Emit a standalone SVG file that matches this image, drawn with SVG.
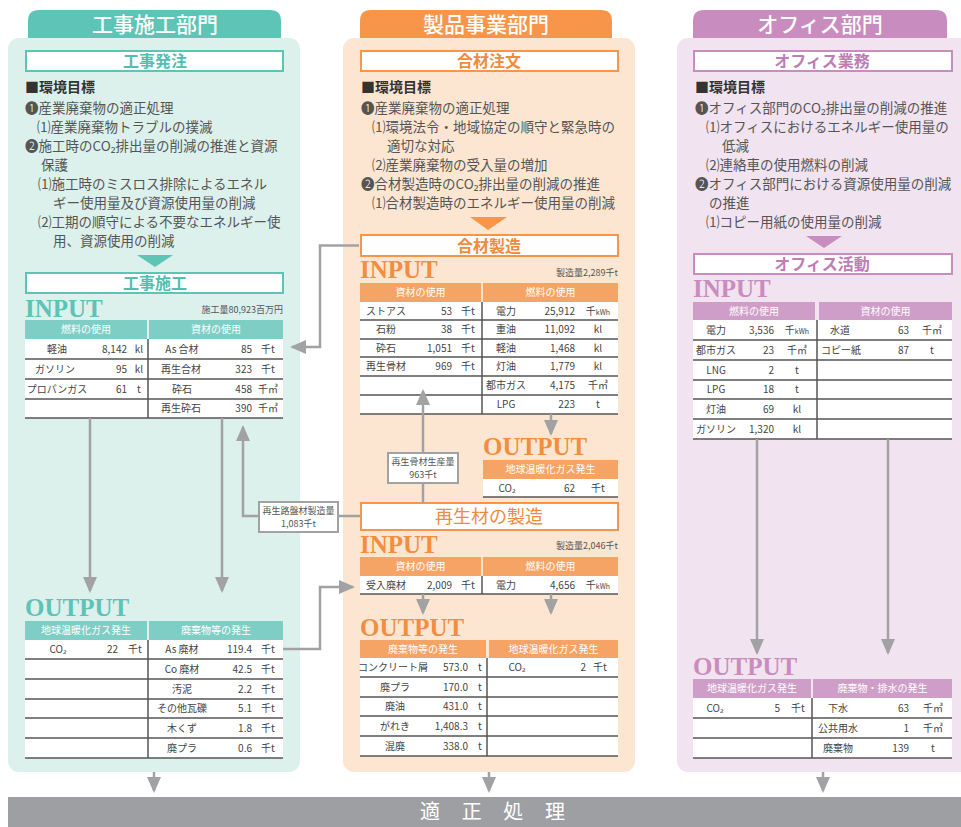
<svg xmlns="http://www.w3.org/2000/svg" width="961" height="827" viewBox="0 0 961 827">
<defs>
<marker id="ah" markerUnits="userSpaceOnUse" markerWidth="16" markerHeight="14" viewBox="0 0 16 14" refX="14" refY="7" orient="auto">
<path d="M0,0 L16,7 L0,14 Z" fill="#a2a2a5"/>
</marker>
<style>
text{font-family:"Noto Sans CJK JP","Noto Sans",sans-serif}
.goalh{font-size:14px;font-weight:700;fill:#333}
.goal{font-size:13.5px;fill:#555}
.tab{font-size:21px;fill:#fff;text-anchor:middle;font-weight:500}
.box{font-size:16px;font-weight:700;text-anchor:middle}
.io{font-family:"Liberation Serif",serif;font-weight:700;font-size:25px}
.th{font-size:10px;fill:#fff;text-anchor:middle}
.td{font-size:10px;fill:#444}
.m{text-anchor:middle}
.e{text-anchor:end}
.sm{font-size:9px;fill:#555}
.conn{stroke:#a2a2a5;stroke-width:2.5;fill:none}
.rl{stroke:#555;stroke-width:1.5}
.row{fill:#fff}
.lbl{fill:#fff;stroke:#a2a2a5;stroke-width:2}
.teal{fill:#4fbfb2}.org{fill:#f08a3c}.pur{fill:#c07cb4}
</style>
</defs>

<!-- panels -->
<g id="dept-construction">
<rect x="8" y="38" width="292" height="734" rx="11" fill="#dcf0ec"/>
<path d="M28,38 V21 Q28,10 39,10 H270 Q281,10 281,21 V38 Z" fill="#5ec4b6"/>
<text class="tab" x="155" y="32">工事施工部門</text>
</g>
<g id="dept-products">
<rect x="343" y="38" width="292" height="734" rx="11" fill="#fde6d1"/>
<path d="M360,38 V21 Q360,10 371,10 H601 Q612,10 612,21 V38 Z" fill="#f7954b"/>
<text class="tab" x="486" y="32">製品事業部門</text>
</g>
<g id="dept-office">
<rect x="677" y="38" width="300" height="734" rx="11" fill="#f1e3ef"/>
<path d="M693,38 V21 Q693,10 704,10 H936 Q947,10 947,21 V38 Z" fill="#c98cbf"/>
<text class="tab" x="820" y="32">オフィス部門</text>
</g>

<!-- left column -->
<g id="order-construction">
<rect x="26" y="51" width="257" height="20" fill="#fff" stroke="#5ec4b6" stroke-width="2"/>
<text class="box teal" x="155" y="67">工事発注</text>
</g>
<g id="goals-construction">
<text class="goalh" x="25" y="92">■環境目標</text>
<text class="goal" x="25" y="113">❶産業廃棄物の適正処理</text>
<text class="goal" x="37" y="132">⑴産業廃棄物トラブルの撲滅</text>
<text class="goal" x="25" y="151">❷施工時のCO₂排出量の削減の推進と資源</text>
<text class="goal" x="41" y="170">保護</text>
<text class="goal" x="38" y="189">⑴施工時のミスロス排除によるエネル</text>
<text class="goal" x="53" y="208">ギー使用量及び資源使用量の削減</text>
<text class="goal" x="38" y="227">⑵工期の順守による不要なエネルギー使</text>
<text class="goal" x="53" y="246">用、資源使用の削減</text>
<path d="M137,255 H173 L155,267 Z" fill="#5ec4b6"/>
</g>
<g id="work-construction">
<rect x="26" y="273" width="257" height="20" fill="#fff" stroke="#5ec4b6" stroke-width="2"/>
<text class="box teal" x="155" y="289">工事施工</text>
<text class="io" x="25" y="317" fill="#5cc3b6">INPUT</text>
<text class="sm e" x="283" y="313">施工量80,923百万円</text>
</g>
<g id="table-construction-input">
<rect x="25" y="320" width="122" height="19" fill="#7fcec5"/>
<rect x="149" y="320" width="134" height="19" fill="#7fcec5"/>
<text class="th" x="86" y="333">燃料の使用</text>
<text class="th" x="216" y="333">資材の使用</text>
<rect class="row" x="25" y="339" width="258" height="79"/>
<path class="rl" d="M25,359H283M25,379H283M25,399H283M25,418H283M148,339V418"/>
<text class="td m" x="57" y="352.5">軽油</text><text class="td e" x="127" y="352.5">8,142</text><text class="td m" x="139" y="352.5">kl</text>
<text class="td m" x="55" y="372.5">ガソリン</text><text class="td e" x="127" y="372.5">95</text><text class="td m" x="139" y="372.5">kl</text>
<text class="td m" x="57" y="392.5">プロパンガス</text><text class="td e" x="127" y="392.5">61</text><text class="td m" x="139" y="392.5">t</text>
<text class="td m" x="182" y="352.5">As 合材</text><text class="td e" x="252" y="352.5">85</text><text class="td m" x="268" y="352.5">千t</text>
<text class="td m" x="181" y="372.5">再生合材</text><text class="td e" x="252" y="372.5">323</text><text class="td m" x="268" y="372.5">千t</text>
<text class="td m" x="182" y="392.5">砕石</text><text class="td e" x="252" y="392.5">458</text><text class="td m" x="268" y="392.5">千㎥</text>
<text class="td m" x="181" y="412">再生砕石</text><text class="td e" x="252" y="412">390</text><text class="td m" x="268" y="412">千㎥</text>
</g>
<g id="table-construction-output">
<text class="io" x="25" y="616" fill="#5cc3b6">OUTPUT</text>
<rect x="25" y="621" width="122" height="19" fill="#7fcec5"/>
<rect x="149" y="621" width="134" height="19" fill="#7fcec5"/>
<text class="th" x="86" y="634">地球温暖化ガス発生</text>
<text class="th" x="216" y="634">廃棄物等の発生</text>
<rect class="row" x="25" y="640" width="258" height="118"/>
<path class="rl" d="M25,659H283M25,679H283M25,699H283M25,718H283M25,738H283M25,758H283M148,640V758"/>
<text class="td m" x="58" y="653">CO₂</text><text class="td e" x="118" y="653">22</text><text class="td m" x="135" y="653">千t</text>
<text class="td m" x="182" y="653">As 廃材</text><text class="td e" x="252" y="653">119.4</text><text class="td m" x="268" y="653">千t</text>
<text class="td m" x="182" y="672.5">Co 廃材</text><text class="td e" x="252" y="672.5">42.5</text><text class="td m" x="268" y="672.5">千t</text>
<text class="td m" x="182" y="692.5">汚泥</text><text class="td e" x="252" y="692.5">2.2</text><text class="td m" x="268" y="692.5">千t</text>
<text class="td m" x="182" y="712">その他瓦礫</text><text class="td e" x="252" y="712">5.1</text><text class="td m" x="268" y="712">千t</text>
<text class="td m" x="182" y="731.5">木くず</text><text class="td e" x="252" y="731.5">1.8</text><text class="td m" x="268" y="731.5">千t</text>
<text class="td m" x="182" y="751.5">廃プラ</text><text class="td e" x="252" y="751.5">0.6</text><text class="td m" x="268" y="751.5">千t</text>
</g>

<!-- middle column -->
<g id="order-products">
<rect x="361" y="51" width="257" height="20" fill="#fff" stroke="#f7954b" stroke-width="2"/>
<text class="box org" x="489" y="67">合材注文</text>
</g>
<g id="goals-products">
<text class="goalh" x="361" y="92">■環境目標</text>
<text class="goal" x="361" y="113">❶産業廃棄物の適正処理</text>
<text class="goal" x="372" y="132">⑴環境法令・地域協定の順守と緊急時の</text>
<text class="goal" x="387" y="151">適切な対応</text>
<text class="goal" x="372" y="170">⑵産業廃棄物の受入量の増加</text>
<text class="goal" x="361" y="189">❷合材製造時のCO₂排出量の削減の推進</text>
<text class="goal" x="372" y="208">⑴合材製造時のエネルギー使用量の削減</text>
<path d="M470,217 H507 L488,230 Z" fill="#f7954b"/>
</g>
<g id="mfg-products">
<rect x="361" y="235" width="257" height="21" fill="#fff" stroke="#f7954b" stroke-width="2"/>
<text class="box org" x="489" y="252">合材製造</text>
<text class="io" x="360" y="278" fill="#f28d41">INPUT</text>
<text class="sm e" x="618" y="276">製造量2,289千t</text>
</g>
<g id="table-products-input">
<rect x="360" y="283" width="121" height="19" fill="#f6a466"/>
<rect x="483" y="283" width="135" height="19" fill="#f6a466"/>
<text class="th" x="420.5" y="296">資材の使用</text>
<text class="th" x="550.5" y="296">燃料の使用</text>
<rect class="row" x="360" y="302" width="258" height="112"/>
<path class="rl" d="M360,320H618M360,339H618M360,357H618M360,376H618M360,395H618M360,414H618M482,302V414"/>
<text class="td m" x="386" y="314.5">ストアス</text><text class="td e" x="452" y="314.5">53</text><text class="td m" x="468" y="314.5">千t</text>
<text class="td m" x="386" y="333">石粉</text><text class="td e" x="452" y="333">38</text><text class="td m" x="468" y="333">千t</text>
<text class="td m" x="386" y="351.5">砕石</text><text class="td e" x="452" y="351.5">1,051</text><text class="td m" x="468" y="351.5">千t</text>
<text class="td m" x="386" y="370">再生骨材</text><text class="td e" x="452" y="370">969</text><text class="td m" x="468" y="370">千t</text>
<text class="td m" x="506" y="314.5">電力</text><text class="td e" x="575" y="314.5">25,912</text><text class="td m" x="598" y="314.5">千<tspan font-size="7">kWh</tspan></text>
<text class="td m" x="506" y="333">重油</text><text class="td e" x="575" y="333">11,092</text><text class="td m" x="598" y="333">kl</text>
<text class="td m" x="506" y="351.5">軽油</text><text class="td e" x="575" y="351.5">1,468</text><text class="td m" x="598" y="351.5">kl</text>
<text class="td m" x="506" y="370">灯油</text><text class="td e" x="575" y="370">1,779</text><text class="td m" x="598" y="370">kl</text>
<text class="td m" x="506" y="389">都市ガス</text><text class="td e" x="575" y="389">4,175</text><text class="td m" x="598" y="389">千㎥</text>
<text class="td m" x="506" y="408">LPG</text><text class="td e" x="575" y="408">223</text><text class="td m" x="598" y="408">t</text>
</g>
<g id="table-products-output">
<text class="io" x="483" y="455" fill="#f28d41">OUTPUT</text>
<rect x="483" y="460" width="135" height="19" fill="#f6a466"/>
<text class="th" x="550.5" y="473">地球温暖化ガス発生</text>
<rect class="row" x="483" y="479" width="135" height="18"/>
<path class="rl" d="M483,497H618"/>
<text class="td m" x="507" y="491.5">CO₂</text><text class="td e" x="575" y="491.5">62</text><text class="td m" x="598" y="491.5">千t</text>
</g>
<g id="recycle-products">
<rect x="361" y="503" width="257" height="27" fill="#fff" stroke="#f7954b" stroke-width="2"/>
<text x="489" y="523" font-size="18" text-anchor="middle" class="org">再生材の製造</text>
<text class="io" x="360" y="553" fill="#f28d41">INPUT</text>
<text class="sm e" x="618" y="549">製造量2,046千t</text>
</g>
<g id="table-recycle-input">
<rect x="360" y="557" width="121" height="19" fill="#f6a466"/>
<rect x="483" y="557" width="135" height="19" fill="#f6a466"/>
<text class="th" x="420.5" y="570">資材の使用</text>
<text class="th" x="550.5" y="570">燃料の使用</text>
<rect class="row" x="360" y="576" width="258" height="18"/>
<path class="rl" d="M360,594H618M482,576V594"/>
<text class="td m" x="386" y="588.5">受入廃材</text><text class="td e" x="452" y="588.5">2,009</text><text class="td m" x="468" y="588.5">千t</text>
<text class="td m" x="506" y="588.5">電力</text><text class="td e" x="575" y="588.5">4,656</text><text class="td m" x="598" y="588.5">千<tspan font-size="7">kWh</tspan></text>
</g>
<g id="table-recycle-output">
<text class="io" x="360" y="636" fill="#f28d41">OUTPUT</text>
<rect x="360" y="640" width="126" height="18" fill="#f6a466"/>
<rect x="489" y="640" width="129" height="18" fill="#f6a466"/>
<text class="th" x="423" y="652.5">廃棄物等の発生</text>
<text class="th" x="553.5" y="652.5">地球温暖化ガス発生</text>
<rect class="row" x="360" y="658" width="258" height="98"/>
<path class="rl" d="M360,677H618M360,697H618M360,716H618M360,736H618M360,756H618M487,658V756"/>
<text class="td m" x="393" y="671">コンクリート屑</text><text class="td e" x="468" y="671">573.0</text><text class="td m" x="480" y="671">t</text>
<text class="td m" x="395" y="690.5">廃プラ</text><text class="td e" x="468" y="690.5">170.0</text><text class="td m" x="480" y="690.5">t</text>
<text class="td m" x="395" y="710">廃油</text><text class="td e" x="468" y="710">431.0</text><text class="td m" x="480" y="710">t</text>
<text class="td m" x="395" y="729.5">がれき</text><text class="td e" x="468" y="729.5">1,408.3</text><text class="td m" x="480" y="729.5">t</text>
<text class="td m" x="395" y="749.5">混廃</text><text class="td e" x="468" y="749.5">338.0</text><text class="td m" x="480" y="749.5">t</text>
<text class="td m" x="517" y="671">CO₂</text><text class="td e" x="586" y="671">2</text><text class="td m" x="600" y="671">千t</text>
</g>

<!-- right column -->
<g id="order-office">
<rect x="694" y="51" width="258" height="20" fill="#fff" stroke="#c98cbf" stroke-width="2"/>
<text class="box pur" x="822" y="67">オフィス業務</text>
</g>
<g id="goals-office">
<text class="goalh" x="695" y="92">■環境目標</text>
<text class="goal" x="695" y="113">❶オフィス部門のCO₂排出量の削減の推進</text>
<text class="goal" x="706" y="132">⑴オフィスにおけるエネルギー使用量の</text>
<text class="goal" x="722" y="151">低減</text>
<text class="goal" x="706" y="170">⑵連絡車の使用燃料の削減</text>
<text class="goal" x="695" y="189">❷オフィス部門における資源使用量の削減</text>
<text class="goal" x="709" y="208">の推進</text>
<text class="goal" x="706" y="227">⑴コピー用紙の使用量の削減</text>
<path d="M806,236 H842 L824,248 Z" fill="#c98cbf"/>
</g>
<g id="work-office">
<rect x="694" y="254" width="258" height="20" fill="#fff" stroke="#c98cbf" stroke-width="2"/>
<text class="box pur" x="822" y="270">オフィス活動</text>
<text class="io" x="693" y="297" fill="#c98cbf">INPUT</text>
</g>
<g id="table-office-input">
<rect x="693" y="302" width="122" height="18" fill="#cf9ec8"/>
<rect x="819" y="302" width="133" height="18" fill="#cf9ec8"/>
<text class="th" x="754" y="314.5">燃料の使用</text>
<text class="th" x="885.5" y="314.5">資材の使用</text>
<rect class="row" x="693" y="320" width="259" height="119"/>
<path class="rl" d="M693,340H952M693,360H952M693,380H952M693,399H952M693,419H952M693,439H952M817,320V439"/>
<text class="td m" x="716" y="333.5">電力</text><text class="td e" x="774" y="333.5">3,536</text><text class="td m" x="797" y="333.5">千<tspan font-size="7">kWh</tspan></text>
<text class="td m" x="716" y="353.5">都市ガス</text><text class="td e" x="774" y="353.5">23</text><text class="td m" x="797" y="353.5">千㎥</text>
<text class="td m" x="716" y="373.5">LNG</text><text class="td e" x="774" y="373.5">2</text><text class="td m" x="797" y="373.5">t</text>
<text class="td m" x="716" y="393">LPG</text><text class="td e" x="774" y="393">18</text><text class="td m" x="797" y="393">t</text>
<text class="td m" x="716" y="412.5">灯油</text><text class="td e" x="774" y="412.5">69</text><text class="td m" x="797" y="412.5">kl</text>
<text class="td m" x="716" y="432.5">ガソリン</text><text class="td e" x="774" y="432.5">1,320</text><text class="td m" x="797" y="432.5">kl</text>
<text class="td m" x="840" y="333.5">水道</text><text class="td e" x="909" y="333.5">63</text><text class="td m" x="932" y="333.5">千㎥</text>
<text class="td m" x="841" y="353.5">コピー紙</text><text class="td e" x="909" y="353.5">87</text><text class="td m" x="932" y="353.5">t</text>
</g>
<g id="table-office-output">
<text class="io" x="693" y="675" fill="#c98cbf">OUTPUT</text>
<rect x="693" y="679" width="118" height="19" fill="#cf9ec8"/>
<rect x="813" y="679" width="139" height="19" fill="#cf9ec8"/>
<text class="th" x="752" y="692">地球温暖化ガス発生</text>
<text class="th" x="882.5" y="692">廃棄物・排水の発生</text>
<rect class="row" x="693" y="698" width="259" height="60"/>
<path class="rl" d="M693,718H952M693,738H952M693,758H952M812,698V758"/>
<text class="td m" x="715" y="711.5">CO₂</text><text class="td e" x="780" y="711.5">5</text><text class="td m" x="798" y="711.5">千t</text>
<text class="td m" x="838" y="711.5">下水</text><text class="td e" x="909" y="711.5">63</text><text class="td m" x="933" y="711.5">千㎥</text>
<text class="td m" x="838" y="731.5">公共用水</text><text class="td e" x="909" y="731.5">1</text><text class="td m" x="933" y="731.5">千㎥</text>
<text class="td m" x="838" y="751.5">廃棄物</text><text class="td e" x="909" y="751.5">139</text><text class="td m" x="933" y="751.5">t</text>
</g>

<!-- bottom -->
<g id="proper-disposal">
<rect x="8" y="797" width="953" height="30" fill="#9e9fa3"/>
<text x="420" y="819" font-size="20" fill="#fff" letter-spacing="8.6">適 正 処 理</text>
</g>

<!-- connectors -->
<g id="connectors">
<path class="conn" d="M359,245.5 H320 V347 H292" marker-end="url(#ah)"/>
<path class="conn" d="M90,418 V591" marker-end="url(#ah)"/>
<path class="conn" d="M222,418 V591" marker-end="url(#ah)"/>
<path class="conn" d="M283,649 H320 V587 H353" marker-end="url(#ah)"/>
<path class="conn" d="M360,516 H338"/>
<path class="conn" d="M259,516 H243 V427" marker-end="url(#ah)"/>
<path class="conn" d="M551,414 V434" marker-end="url(#ah)"/>
<path class="conn" d="M423,503 V483"/>
<path class="conn" d="M423,453 V391" marker-end="url(#ah)"/>
<path class="conn" d="M423,594 V613" marker-end="url(#ah)"/>
<path class="conn" d="M551,594 V613" marker-end="url(#ah)"/>
<path class="conn" d="M757,439 V653" marker-end="url(#ah)"/>
<path class="conn" d="M888,439 V653" marker-end="url(#ah)"/>
<path class="conn" d="M154,772 V791" marker-end="url(#ah)"/>
<path class="conn" d="M489,772 V791" marker-end="url(#ah)"/>
<path class="conn" d="M823,772 V791" marker-end="url(#ah)"/>
<g id="label-road">
<rect class="lbl" x="259" y="502" width="79" height="30"/>
<text class="sm m" x="298.5" y="514">再生路盤材製造量</text>
<text class="sm m" x="298.5" y="527">1,083千t</text>
</g>
<g id="label-aggregate">
<rect class="lbl" x="388" y="453" width="70" height="30"/>
<text class="sm m" x="423" y="465">再生骨材生産量</text>
<text class="sm m" x="423" y="478">963千t</text>
</g>
</g>
</svg>
